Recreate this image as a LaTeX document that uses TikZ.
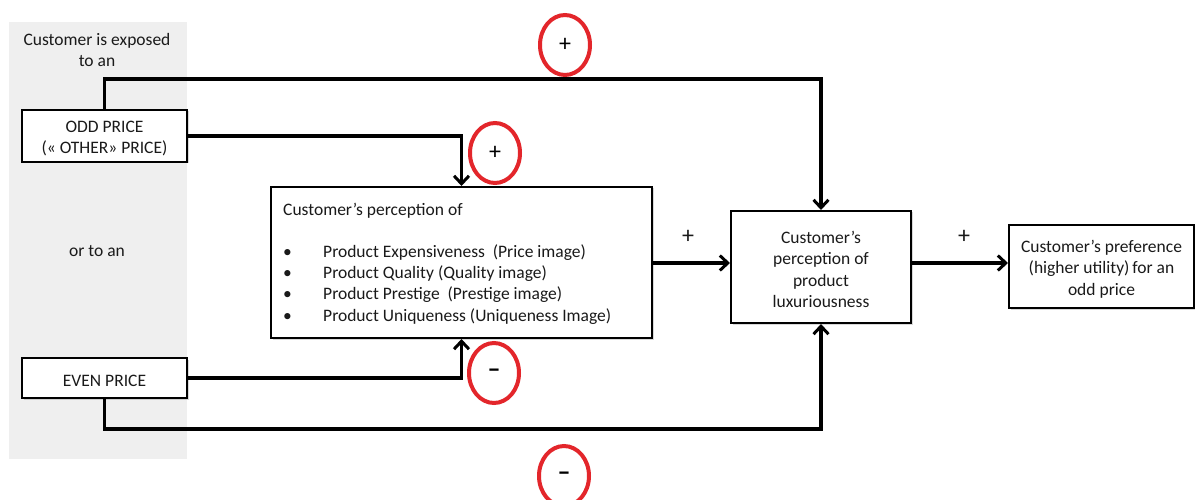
\documentclass[tikz,border=0pt]{standalone}
\usepackage{fontspec}
\setmainfont{Carlito}
\usetikzlibrary{arrows.meta,shapes.geometric,shadows}
\definecolor{bggray}{HTML}{EFEFEF}
\definecolor{circred}{HTML}{E3262B}
\definecolor{txt}{HTML}{1A1A1A}
\tikzset{
  box/.style={draw=black, line width=2pt, fill=white, inner sep=0pt, text=txt, font=\fontsize{17.5}{21.5}\selectfont, align=center,
    drop shadow={opacity=0.3, shadow xshift=1.5pt, shadow yshift=-1.5pt}},
  boxtext/.style={text=txt, font=\fontsize{17.5}{21.5}\selectfont, align=center, inner sep=0pt, yshift=-2.5pt},
  conn/.style={line width=3.5pt, -{Straight Barb[length=8pt,width=15pt,line width=3pt]}},
  sign/.style={ellipse, draw=circred, line width=4pt, fill=white, minimum width=50pt, minimum height=60pt, inner sep=0pt, text=black},
  lbl/.style={text=txt, font=\fontsize{17.5}{21.5}\selectfont, align=center, inner sep=0pt},
  item/.style={text=txt, font=\fontsize{17.5}{21}\selectfont, anchor=west, inner sep=0pt}
}
\begin{document}
\begin{tikzpicture}[x=1pt,y=-1pt]
\useasboundingbox (0,0) rectangle (1195,500);
\clip (0,0) rectangle (1195,500);
\fill[white] (0,0) rectangle (1195,500);
\fill[bggray] (9,22) rectangle (187,459);

\node[lbl] (exposed) at (97,50) {Customer is exposed\\to an};
\node[lbl] (orto) at (97,251) {or to an};

\coordinate (topy) at (0,79);
\coordinate (boty) at (0,429);
\coordinate (midy) at (0,263);

\node[box, minimum width=165pt, minimum height=52pt] (odd) at (104.5,136) {};
\node[boxtext] (oddt) at (odd.center) {ODD PRICE\\(« OTHER» PRICE)};
\node[box, minimum width=165pt, minimum height=40pt] (even) at (104.5,378) {};
\node[boxtext] (event) at (even.center) {EVEN PRICE};
\node[box, minimum width=381pt, minimum height=151pt] (main) at (461.5,262.5) {};
\node[box, minimum width=180pt, minimum height=112pt] (lux) at (821,267) {};
\node[boxtext] (luxt) at (lux.center) {Customer’s\\perception of\\product\\luxuriousness};
\node[box, minimum width=185pt, minimum height=83pt] (pref) at (1101.5,266.5) {};
\node[boxtext] (preft) at (pref.center) {Customer’s preference\\(higher utility)\,for an\\odd price};

\node[item] (t0) at (283,211) {Customer’s perception of};
\foreach \yy/\tt [count=\i] in {253/Product Expensiveness\ \ (Price image),274/Product Quality (Quality image),295/Product Prestige\ \ (Prestige image),317/Product Uniqueness (Uniqueness Image)}{
  \node[item] (b\i) at (283,\yy) {•};
  \node[item] (t\i) at (323,\yy) {\tt};
}

\draw[conn] (odd.north) |- (lux.north |- topy) -- (lux.north);
\draw[conn] (odd.east) -| (main.north);
\draw[conn] (even.east) -| (main.south);
\draw[conn] (even.south) |- (lux.south |- boty) -- (lux.south);
\draw[conn] (main.east |- midy) -- (lux.west |- midy);
\draw[conn] (lux.east |- midy) -- (pref.west |- midy);

\node[lbl, font=\fontsize{24}{24}\selectfont] (p1) at (688,237) {+};
\node[lbl, font=\fontsize{24}{24}\selectfont] (p2) at (964,237) {+};

\node[sign, font=\fontsize{24}{24}\selectfont] (s1) at (565,45) {+};
\node[sign, font=\fontsize{24}{24}\selectfont] (s2) at (495,153) {+};
\node[sign, font=\fontsize{26}{26}\selectfont\bfseries] (s3) at (494,373) {–};
\node[sign, font=\fontsize{26}{26}\selectfont\bfseries] (s4) at (564,476) {–};
\end{tikzpicture}
\end{document}
